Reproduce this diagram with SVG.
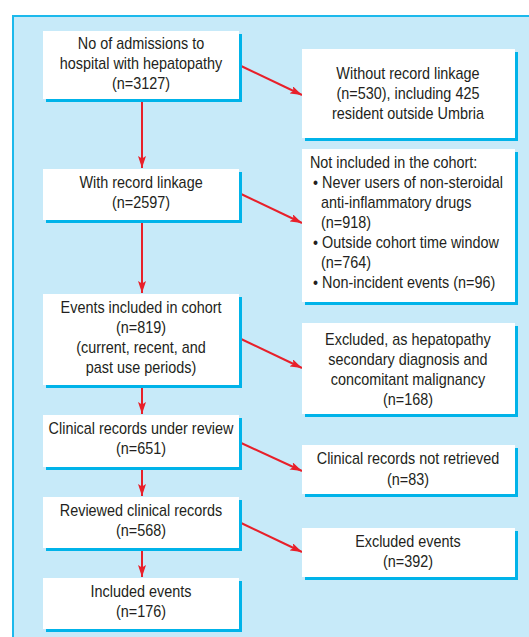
<svg xmlns="http://www.w3.org/2000/svg" width="529" height="637" viewBox="0 0 529 637">
<defs>
<style>
.panel{fill:#c7eaf9;stroke:#1cb9ec;stroke-width:2}
.sh{fill:#00b3e9}
.bx{fill:#ffffff}
text{font-family:"Liberation Sans",Arial,sans-serif;font-size:16px;fill:#231f20}
.c{text-anchor:middle}
.ln{stroke:#e8202a;stroke-width:2;fill:none;marker-end:url(#ah)}
</style>
<marker id="ah" viewBox="0 0 12 8" refX="12" refY="4" markerWidth="12" markerHeight="8" markerUnits="userSpaceOnUse" orient="auto">
<path d="M0,0 L12,4 L0,8 L2.5,4 z" fill="#e8202a"/>
</marker>
</defs>
<rect x="0" y="0" width="529" height="637" fill="#ffffff"/>
<rect class="panel" x="13" y="16" width="530" height="640"/>

<g id="connectors">
<line class="ln" x1="142" y1="101" x2="142" y2="168"/>
<line class="ln" x1="142" y1="222" x2="142" y2="293"/>
<line class="ln" x1="142" y1="387" x2="142" y2="414"/>
<line class="ln" x1="142" y1="469" x2="142" y2="496"/>
<line class="ln" x1="142" y1="550" x2="142" y2="577"/>
<line class="ln" x1="239" y1="65" x2="302" y2="95"/>
<line class="ln" x1="239" y1="193" x2="302" y2="223"/>
<line class="ln" x1="239" y1="338" x2="302" y2="368"/>
<line class="ln" x1="239" y1="442" x2="302" y2="471"/>
<line class="ln" x1="239" y1="522" x2="302" y2="552"/>
</g>

<g id="n1">
<rect class="sh" x="46" y="34" width="196" height="68"/>
<rect class="bx" x="43" y="31" width="196" height="68"/>
<g transform="scale(0.9 1)">
<text class="c" x="156.7" y="49">No of admissions to</text>
<text class="c" x="156.7" y="69">hospital with hepatopathy</text>
<text class="c" x="156.7" y="89">(n=3127)</text>
</g>
</g>
<g id="n2">
<rect class="sh" x="46" y="172" width="196" height="51"/>
<rect class="bx" x="43" y="169" width="196" height="51"/>
<g transform="scale(0.9 1)">
<text class="c" x="156.7" y="188">With record linkage</text>
<text class="c" x="156.7" y="208">(n=2597)</text>
</g>
</g>
<g id="n3">
<rect class="sh" x="46" y="297" width="196" height="91"/>
<rect class="bx" x="43" y="294" width="196" height="91"/>
<g transform="scale(0.9 1)">
<text class="c" x="156.7" y="313">Events included in cohort</text>
<text class="c" x="156.7" y="333">(n=819)</text>
<text class="c" x="156.7" y="353">(current, recent, and</text>
<text class="c" x="156.7" y="373">past use periods)</text>
</g>
</g>
<g id="n4">
<rect class="sh" x="46" y="418" width="196" height="52"/>
<rect class="bx" x="43" y="415" width="196" height="52"/>
<g transform="scale(0.9 1)">
<text class="c" x="156.7" y="434">Clinical records under review</text>
<text class="c" x="156.7" y="454">(n=651)</text>
</g>
</g>
<g id="n5">
<rect class="sh" x="46" y="500" width="196" height="51"/>
<rect class="bx" x="43" y="497" width="196" height="51"/>
<g transform="scale(0.9 1)">
<text class="c" x="156.7" y="516">Reviewed clinical records</text>
<text class="c" x="156.7" y="536">(n=568)</text>
</g>
</g>
<g id="n6">
<rect class="sh" x="46" y="581" width="196" height="51"/>
<rect class="bx" x="43" y="578" width="196" height="51"/>
<g transform="scale(0.9 1)">
<text class="c" x="156.7" y="597">Included events</text>
<text class="c" x="156.7" y="617">(n=176)</text>
</g>
</g>

<g id="r1">
<rect class="sh" x="305" y="52" width="213" height="89"/>
<rect class="bx" x="302" y="49" width="213" height="89"/>
<g transform="scale(0.9 1)">
<text class="c" x="453.3" y="79">Without record linkage</text>
<text class="c" x="453.3" y="99">(n=530), including 425</text>
<text class="c" x="453.3" y="119">resident outside Umbria</text>
</g>
</g>
<g id="r2">
<rect class="sh" x="305" y="152" width="213" height="153"/>
<rect class="bx" x="302" y="149" width="213" height="153"/>
<g transform="scale(0.9 1)">
<text x="344.4" y="168">Not included in the cohort:</text>
<text x="347.8" y="188">• Never users of non-steroidal</text>
<text x="356.7" y="208">anti-inflammatory drugs</text>
<text x="356.7" y="228">(n=918)</text>
<text x="347.8" y="248">• Outside cohort time window</text>
<text x="356.7" y="268">(n=764)</text>
<text x="347.8" y="288">• Non-incident events (n=96)</text>
</g>
</g>
<g id="r3">
<rect class="sh" x="305" y="326" width="213" height="91"/>
<rect class="bx" x="302" y="323" width="213" height="91"/>
<g transform="scale(0.9 1)">
<text class="c" x="453.3" y="345">Excluded, as hepatopathy</text>
<text class="c" x="453.3" y="365">secondary diagnosis and</text>
<text class="c" x="453.3" y="385">concomitant malignancy</text>
<text class="c" x="453.3" y="405">(n=168)</text>
</g>
</g>
<g id="r4">
<rect class="sh" x="305" y="448" width="213" height="49"/>
<rect class="bx" x="302" y="445" width="213" height="49"/>
<g transform="scale(0.9 1)">
<text class="c" x="453.3" y="464">Clinical records not retrieved</text>
<text class="c" x="453.3" y="485">(n=83)</text>
</g>
</g>
<g id="r5">
<rect class="sh" x="305" y="531" width="213" height="49"/>
<rect class="bx" x="302" y="528" width="213" height="49"/>
<g transform="scale(0.9 1)">
<text class="c" x="453.3" y="547">Excluded events</text>
<text class="c" x="453.3" y="567">(n=392)</text>
</g>
</g>
</svg>
